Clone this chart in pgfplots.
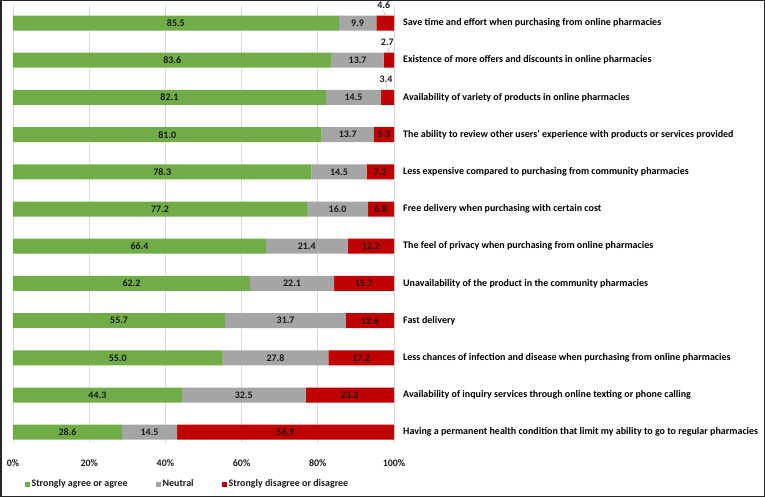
\documentclass[border=0pt]{standalone}
\usepackage{fontspec}
\setmainfont{Carlito}
\usepackage{pgfplots}
\pgfplotsset{compat=1.18}
\usepackage{pgfplotstable}
\definecolor{agree}{HTML}{70AD47}
\definecolor{neutral}{HTML}{A5A5A5}
\definecolor{disagree}{HTML}{C00000}
\definecolor{gridc}{HTML}{D9D9D9}
\definecolor{txt}{HTML}{1A1A1A}
\definecolor{framec}{HTML}{262626}

% p = row position (top row is 11)
\pgfplotstableread{
p  g    n    d
11 85.5 9.9  4.6
10 83.6 13.7 2.7
9  82.1 14.5 3.4
8  81.0 13.7 5.3
7  78.3 14.5 7.2
6  77.2 16.0 6.8
5  66.4 21.4 12.2
4  62.2 22.1 15.7
3  55.7 31.7 12.6
2  55.0 27.8 17.2
1  44.3 32.5 23.2
0  28.6 14.5 56.9
}\survey

\newcommand{\lblfont}{\bfseries\fontsize{10}{12}\selectfont}
\newcommand{\catfont}{\bfseries\fontsize{10.05}{12}\selectfont}

\pgfplotsset{common/.style={
  width=381bp, height=438.2bp, scale only axis,
  xmin=0, xmax=100, ymin=-0.30, ymax=11.48,
  at={(13bp,53.6bp)}, anchor=south west,
  /pgf/number format/assume math mode=true}}

\begin{document}
\begin{tikzpicture}
\path[use as bounding box] (0,0) rectangle (765bp,497bp);
\begin{axis}[common,
  xbar stacked, bar width=15bp,
  axis x line*=bottom, axis y line*=right, axis line style={draw=none},
  major tick length=0,
  xtick={0,20,...,100}, xmajorgrids, grid style={gridc, line width=0.75bp},
  xticklabel={\pgfmathprintnumber{\tick}\%},
  xticklabel style={font=\lblfont, text=txt, yshift=-13bp},
  ytick={0,...,11},
  yticklabels={
    Having a permanent health condition that limit my ability to go to regular pharmacies,
    Availability of inquiry services through online texting or phone calling,
    Less chances of infection and disease when purchasing from online pharmacies,
    Fast delivery,
    Unavailability of the product in the community pharmacies,
    The feel of privacy when purchasing from online pharmacies,
    Free delivery when purchasing with certain cost,
    Less expensive compared to purchasing from community pharmacies,
    The ability to review other users’ experience with products or services provided,
    Availability of variety of products in online pharmacies,
    Existence of more offers and discounts in online pharmacies,
    Save time and effort when purchasing from online pharmacies},
  yticklabel style={anchor=west, font=\catfont, text=black, inner sep=0pt, xshift=9bp},
  legend style={at={(axis description cs:0.022,-0.0927)}, anchor=west, draw=none, fill=none,
    font=\lblfont, text=txt, legend columns=3,
    /tikz/every even column/.append style={column sep=26bp}},
  legend image code/.code={\fill[#1] (0bp,-2.5bp) rectangle (5bp,2.5bp);},
]
\addplot[fill=agree, draw=none] table[x=g, y=p] {\survey};
\addplot[fill=neutral, draw=none] table[x=n, y=p] {\survey};
\addplot[fill=disagree, draw=none] table[x=d, y=p] {\survey};
\legend{Strongly agree or agree, Neutral, Strongly disagree or disagree}
\end{axis}

\begin{axis}[common, hide axis,
  nodes near coords, point meta=explicit,
  every node near coord/.style={anchor=center, font=\lblfont, text=txt, inner sep=0pt},
  /pgf/number format/.cd, fixed, fixed zerofill, precision=1]
\addplot[draw=none, mark=none] table[x expr=\thisrow{g}/2, y=p, meta=g] {\survey};
\addplot[draw=none, mark=none] table[x expr=\thisrow{g}+\thisrow{n}/2, y=p, meta=n] {\survey};
\addplot[draw=none, mark=none, skip coords between index={0}{3}]
  table[x expr=\thisrow{g}+\thisrow{n}+\thisrow{d}/2, y=p, meta=d] {\survey};
\addplot[draw=none, mark=none, skip coords between index={3}{12},
  every node near coord/.append style={yshift=18bp, xshift=-1.5bp}]
  table[x expr=\thisrow{g}+\thisrow{n}+\thisrow{d}/2, y=p, meta=d] {\survey};
% leader lines for the small labels
\draw[neutral, line width=0.5bp] (axis cs:97.2,11.34) -- (axis cs:97.7,11.2);
\draw[neutral, line width=0.5bp] (axis cs:98.4,10.34) -- (axis cs:98.65,10.2);
\draw[neutral, line width=0.5bp] (axis cs:98.0,9.34) -- (axis cs:98.3,9.2);
\end{axis}
\draw[framec, line width=1.5bp] (0.75bp,0.75bp) rectangle (764.25bp,496.25bp);
\end{tikzpicture}
\end{document}
